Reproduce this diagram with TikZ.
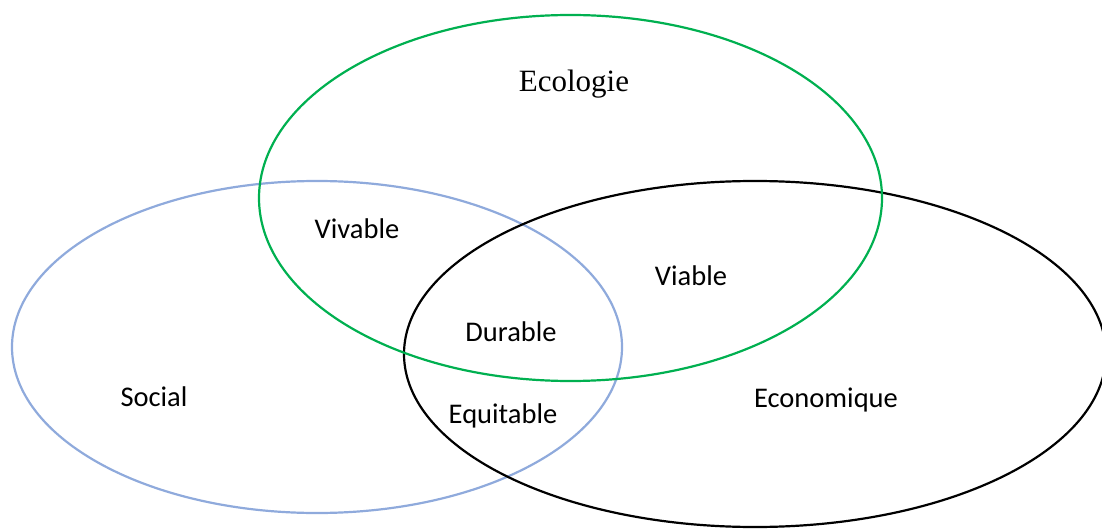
\documentclass[tikz,border=0pt]{standalone}
\usepackage{fontspec}
\setmainfont{Carlito}
\newfontfamily\seriffont{Liberation Serif}
\definecolor{ecogreen}{HTML}{00B050}
\definecolor{socblue}{HTML}{8FAADC}
\begin{document}
\begin{tikzpicture}[x=1pt,y=-1pt,
  ring/.style={line width=2.2pt},
  lbl/.style={font=\fontsize{28.5}{34}\selectfont, inner sep=0pt, anchor=center}]
\useasboundingbox (0,0) rectangle (1102,529);
\draw[ring, socblue] (317,347) ellipse [x radius=305, y radius=166];
\draw[ring, black] (755,354) ellipse [x radius=351, y radius=173];
\draw[ring, ecogreen] (570.5,198) ellipse [x radius=311.5, y radius=183];
\node[lbl, font=\seriffont\fontsize{31}{37}\selectfont] (eco) at (574,84) {Ecologie};
\node[lbl] (viv) at (357,229) {Vivable};
\node[lbl] (via) at (691,276) {Viable};
\node[lbl] (dur) at (511,332) {Durable};
\node[lbl] (soc) at (154,397) {Social};
\node[lbl] (equ) at (503,416) {Equitable};
\node[lbl] (econ) at (826,400) {Economique};
\end{tikzpicture}
\end{document}
